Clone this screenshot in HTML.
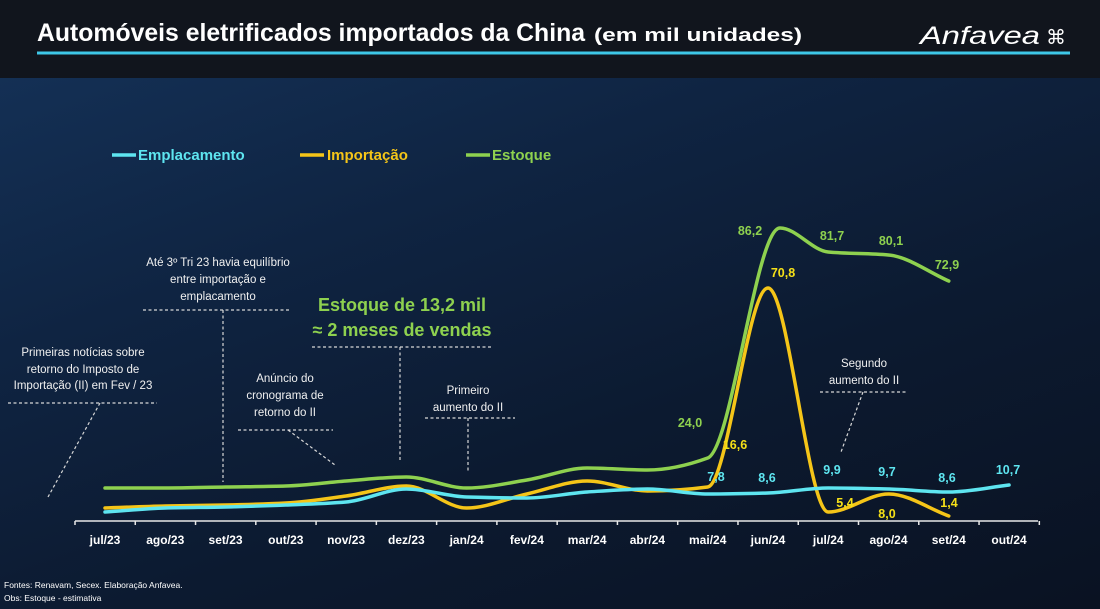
<!DOCTYPE html><html><head><meta charset="utf-8"><style>
html,body{margin:0;padding:0}
body{width:1100px;height:609px;overflow:hidden;background:linear-gradient(160deg,#15335a 0%,#0f2442 35%,#0c1a30 65%,#0a1222 100%);font-family:"Liberation Sans",sans-serif;position:relative}
.hdr{position:absolute;left:0;top:0;width:1100px;height:78px;background:#11151d}
svg{position:absolute;left:0;top:0}
</style></head><body>
<div class="hdr"></div>
<svg width="1100" height="609" viewBox="0 0 1100 609" font-family="Liberation Sans, sans-serif">
<text x="37" y="41" fill="#fff" font-size="25" font-weight="bold" textLength="548" lengthAdjust="spacingAndGlyphs">Automóveis eletrificados importados da China</text>
<text x="594" y="41" fill="#fff" font-size="18" font-weight="bold" textLength="208" lengthAdjust="spacingAndGlyphs">(em mil unidades)</text>
<text x="920" y="44" fill="#fff" font-size="25" font-style="italic" textLength="120" lengthAdjust="spacingAndGlyphs">Anfavea</text>
<text x="1046" y="44" fill="#fff" font-size="20">⌘</text>
<line x1="37" y1="53" x2="1070" y2="53" stroke="#3ec8e8" stroke-width="3"/>
<g font-size="15" font-weight="bold">
<line x1="112" y1="155" x2="136" y2="155" stroke="#5ee5f0" stroke-width="3.5"/><text x="138" y="160" fill="#5ee5f0">Emplacamento</text>
<line x1="300" y1="155" x2="324" y2="155" stroke="#f5c518" stroke-width="3.5"/><text x="327" y="160" fill="#f5c518">Importação</text>
<line x1="466" y1="155" x2="490" y2="155" stroke="#8ed14f" stroke-width="3.5"/><text x="492" y="160" fill="#8ed14f">Estoque</text>
</g>
<g fill="#f0f0f0" font-size="11.5" text-anchor="middle">
<text x="83" y="356">Primeiras notícias sobre</text><text x="83" y="373">retorno do Imposto de</text><text x="83" y="389">Importação (II) em Fev / 23</text>
<text x="218" y="266">Até 3º Tri 23 havia equilíbrio</text><text x="218" y="283">entre importação e</text><text x="218" y="300">emplacamento</text>
<text x="285" y="382">Anúncio do</text><text x="285" y="399">cronograma de</text><text x="285" y="416">retorno do II</text>
<text x="468" y="394">Primeiro</text><text x="468" y="411">aumento do II</text>
<text x="864" y="367">Segundo</text><text x="864" y="384">aumento do II</text>
</g>
<g fill="#8ed14f" font-size="18" font-weight="bold" text-anchor="middle">
<text x="402" y="311">Estoque de 13,2 mil</text><text x="402" y="336">≈ 2 meses de vendas</text>
</g>
<g stroke="#d8d8d8" stroke-width="1.2" stroke-dasharray="3,2.5" fill="none">
<line x1="8" y1="403" x2="157" y2="403"/><line x1="100" y1="403" x2="48" y2="497"/>
<line x1="143" y1="310" x2="290" y2="310"/><line x1="223" y1="310" x2="223" y2="482"/>
<line x1="238" y1="430" x2="333" y2="430"/><line x1="288" y1="430" x2="335" y2="465"/>
<line x1="312" y1="347" x2="492" y2="347"/><line x1="400" y1="347" x2="400" y2="460"/>
<line x1="425" y1="418" x2="515" y2="418"/><line x1="468" y1="418" x2="468" y2="472"/>
<line x1="820" y1="392" x2="906" y2="392"/><line x1="863" y1="392" x2="841" y2="452"/>
</g>
<line x1="75" y1="521" x2="1038" y2="521" stroke="#e8e8e8" stroke-width="1.5"/>
<g id="ticks" stroke="#e8e8e8" stroke-width="1.5"></g>
<g fill="#fff" font-size="12" font-weight="bold" text-anchor="middle" id="xl"></g>
<g fill="none" stroke-width="3.5" stroke-linecap="round">
<path id="pg" stroke="#8ed14f"/><path id="py" stroke="#f5c518"/><path id="pc" stroke="#5ee5f0"/>
</g>
<g font-size="12.5" font-weight="bold" text-anchor="middle">
<text x="690" y="427" fill="#8ed14f">24,0</text>
<text x="750" y="235" fill="#8ed14f">86,2</text>
<text x="832" y="240" fill="#8ed14f">81,7</text>
<text x="891" y="245" fill="#8ed14f">80,1</text>
<text x="947" y="269" fill="#8ed14f">72,9</text>
<text x="735" y="449" fill="#f5e018">16,6</text>
<text x="783" y="277" fill="#f5e018">70,8</text>
<text x="845" y="507" fill="#f5e018">5,4</text>
<text x="887" y="518" fill="#f5e018">8,0</text>
<text x="949" y="507" fill="#f5e018">1,4</text>
<text x="716" y="481" fill="#5ee5f0">7,8</text>
<text x="767" y="482" fill="#5ee5f0">8,6</text>
<text x="832" y="474" fill="#5ee5f0">9,9</text>
<text x="887" y="476" fill="#5ee5f0">9,7</text>
<text x="947" y="482" fill="#5ee5f0">8,6</text>
<text x="1008" y="474" fill="#5ee5f0">10,7</text>
</g>
<text x="4" y="588" fill="#fff" font-size="8.5">Fontes: Renavam, Secex.  Elaboração Anfavea.</text>
<text x="4" y="601" fill="#fff" font-size="8.5">Obs: Estoque  -  estimativa</text>
</svg>
<script>
var X=function(i){return 105+60.27*i};
var m=["jul/23","ago/23","set/23","out/23","nov/23","dez/23","jan/24","fev/24","mar/24","abr/24","mai/24","jun/24","jul/24","ago/24","set/24","out/24"];
var xl=document.getElementById('xl'),tk=document.getElementById('ticks'),ns="http://www.w3.org/2000/svg";
for(var i=0;i<m.length;i++){var t=document.createElementNS(ns,'text');t.setAttribute('x',X(i));t.setAttribute('y',544);t.textContent=m[i];xl.appendChild(t);}
for(var i=0;i<=16;i++){var l=document.createElementNS(ns,'line');var x=X(i)-30;l.setAttribute('x1',x);l.setAttribute('x2',x);l.setAttribute('y1',521);l.setAttribute('y2',525);tk.appendChild(l);}
function path(p){var n=p.length,d=[],s=[];
for(var i=0;i<n-1;i++){s[i]=(p[i+1][1]-p[i][1])/(p[i+1][0]-p[i][0]);}
for(var i=0;i<n;i++){if(i==0)d[i]=s[0];else if(i==n-1)d[i]=s[n-2];else if(s[i-1]*s[i]<=0)d[i]=0;else{var h0=p[i][0]-p[i-1][0],h1=p[i+1][0]-p[i][0];d[i]=3*(h0+h1)/((2*h1+h0)/s[i-1]+(h1+2*h0)/s[i]);}}
var r="M"+p[0][0]+","+p[0][1];
for(var i=0;i<n-1;i++){var h=(p[i+1][0]-p[i][0])/3;r+=" C"+(p[i][0]+h)+","+(p[i][1]+d[i]*h)+" "+(p[i+1][0]-h)+","+(p[i+1][1]-d[i+1]*h)+" "+p[i+1][0]+","+p[i+1][1];}
return r;}
document.getElementById('pg').setAttribute('d',path([[X(0),488],[X(1),488],[X(2),487],[X(3),486],[X(4),481],[X(5),477],[X(6),488],[X(7),480],[X(8),468],[X(9),470],[X(10),458],[780,228],[X(12),252],[X(13),255],[X(14),281]]));
document.getElementById('py').setAttribute('d',path([[X(0),508],[X(1),506],[X(2),505],[X(3),503],[X(4),496],[X(5),486],[X(6),508],[X(7),494],[X(8),481],[X(9),491],[X(10),487],[X(11),288],[X(12),512],[X(13),494],[X(14),516]]));
document.getElementById('pc').setAttribute('d',path([512,508,507,505,502,489,497,498,492,489,494,493,488,489,492,485].map(function(y,i){return [X(i),y]})));
</script>
</body></html>
